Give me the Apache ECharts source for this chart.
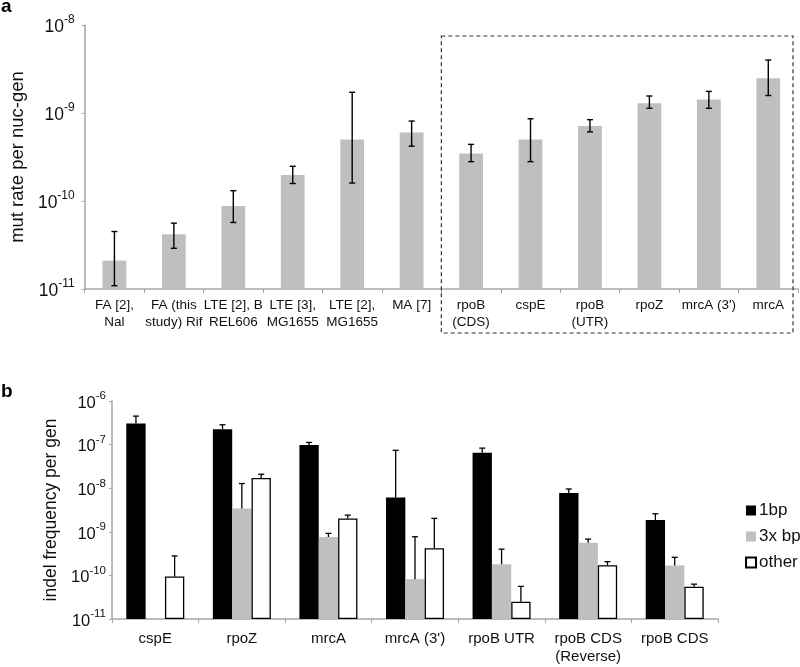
<!DOCTYPE html>
<html>
<head>
<meta charset="utf-8">
<script src="https://cdn.jsdelivr.net/npm/echarts@6/dist/echarts.min.js"></script>
<style>html,body{margin:0;padding:0;background:#fff}#c{width:800px;height:667px}</style>
</head>
<body>
<div id="c"></div>
<script>
// ---- Panel a data ----
const catsA = ['FA [2],\nNal','FA (this\nstudy) Rif','LTE [2], B\nREL606','LTE [3],\nMG1655','LTE [2],\nMG1655','MA [7]','rpoB\n(CDS)','cspE','rpoB\n(UTR)','rpoZ',"mrcA (3')",'mrcA'];
const rateA  = [2.1e-11,4.2e-11,8.8e-11,1.97e-10,5.0e-10,6.0e-10,3.47e-10,5.0e-10,7.1e-10,1.29e-9,1.42e-9,2.48e-9];
const errHiA = [4.5e-11,5.6e-11,1.31e-10,2.48e-10,1.72e-9,8.1e-10,4.4e-10,8.6e-10,8.4e-10,1.56e-9,1.76e-9,4.0e-9];
const errLoA = [1.09e-11,2.9e-11,5.7e-11,1.58e-10,1.6e-10,4.2e-10,2.8e-10,2.8e-10,6.1e-10,1.13e-9,1.13e-9,1.58e-9];

// ---- Panel b data ----
const catsB = ['cspE','rpoZ','mrcA',"mrcA (3')",'rpoB UTR','rpoB CDS\n(Reverse)','rpoB CDS'];
const seriesNamesB = ['1bp','3x bp','other'];
const bp1      = [3.05e-7,2.26e-7,9.8e-8,6.1e-9,6.5e-8,7.8e-9,1.86e-9];
const bp1Err   = [4.5e-7,2.85e-7,1.12e-7,7.4e-8,8.3e-8,9.6e-9,2.59e-9];
const bp3      = [null,3.44e-9,7.6e-10,8.2e-11,1.8e-10,5.6e-10,1.68e-10];
const bp3Err   = [null,1.28e-8,9.2e-10,7.7e-10,4.0e-10,6.8e-10,2.6e-10];
const other    = [9.4e-11,1.72e-8,2.03e-9,4.2e-10,2.5e-11,1.71e-10,5.5e-11];
const otherErr = [2.8e-10,2.09e-8,2.41e-9,2.03e-9,5.6e-11,2.07e-10,6.3e-11];

const FONT = "'Liberation Sans', Arial, sans-serif";
const NARROW = "'Liberation Sans Narrow', 'Liberation Sans', Arial, sans-serif";
const AXIS_GRAY = '#a6a6a6';

function supLabel(size, supSize) {
  return {
    formatter: v => '{a|10}{s|' + Math.round(Math.log10(v)) + '}',
    rich: {
      a: {fontSize: size, fontFamily: FONT, color: '#111', verticalAlign: 'bottom', lineHeight: size + 5},
      s: {fontSize: supSize, fontFamily: FONT, color: '#111', verticalAlign: 'top', lineHeight: size + 5}
    }
  };
}

const chart = echarts.init(document.getElementById('c'), null, {renderer: 'canvas'});

function errBothRender(params, api) {
  const i = api.value(0);
  const hi = api.coord([i, api.value(1)]);
  const lo = api.coord([i, api.value(2)]);
  const cap = 3;
  const st = {stroke: '#000', lineWidth: 1.4};
  return {type: 'group', children: [
    {type: 'line', shape: {x1: hi[0], y1: hi[1], x2: lo[0], y2: lo[1]}, style: st},
    {type: 'line', shape: {x1: hi[0]-cap, y1: hi[1], x2: hi[0]+cap, y2: hi[1]}, style: st},
    {type: 'line', shape: {x1: lo[0]-cap, y1: lo[1], x2: lo[0]+cap, y2: lo[1]}, style: st}
  ]};
}

function makeErrUp(k) {
  return function (params, api) {
    const i = api.value(0);
    const v = api.value(1), e = api.value(2);
    if (!(v > 0) || !(e > 0)) return null;
    const band = api.size([1, 0])[0];
    const w = band * 0.67 / 3;
    const off = (k - 1) * w;
    const top = api.coord([i, e]);
    const base = api.coord([i, v]);
    const x = top[0] + off;
    const cap = 3;
    const st = {stroke: '#000', lineWidth: 1.3};
    return {type: 'group', children: [
      {type: 'line', shape: {x1: x, y1: top[1], x2: x, y2: base[1]}, style: st},
      {type: 'line', shape: {x1: x-cap, y1: top[1], x2: x+cap, y2: top[1]}, style: st}
    ]};
  };
}

const barDataB = [bp1, bp3, other];
const errDataB = [bp1Err, bp3Err, otherErr];
const styleB = [
  {color: '#000'},
  {color: '#bfbfbf'},
  {color: '#fff', borderColor: '#000', borderWidth: 1.3}
];

const seriesB = [];
barDataB.forEach((arr, k) => {
  seriesB.push({
    name: seriesNamesB[k], type: 'bar', xAxisIndex: 1, yAxisIndex: 1,
    data: arr.map(v => v == null ? '-' : v),
    barGap: '0%', barCategoryGap: '33%',
    itemStyle: styleB[k], z: 2
  });
});
errDataB.forEach((arr, k) => {
  seriesB.push({
    type: 'custom', xAxisIndex: 1, yAxisIndex: 1, z: 5,
    renderItem: makeErrUp(k),
    data: arr.map((e, i) => [i, barDataB[k][i] == null ? 0 : barDataB[k][i], e == null ? 0 : e]),
    silent: true
  });
});

const titles = [
  {type: 'text', left: 1, top: -3, style: {text: 'a', fontSize: 19, fontWeight: 'bold', fontFamily: FONT, fill: '#000'}},
  {type: 'text', left: 1, top: 382, style: {text: 'b', fontSize: 19, fontWeight: 'bold', fontFamily: FONT, fill: '#000'}}
];

const option = {
  animation: false,
  backgroundColor: '#fff',
  textStyle: {fontFamily: FONT},
  grid: [
    {left: 80, right: 2, top: 25, bottom: 378},
    {left: 112, right: 82, top: 401, bottom: 48}
  ],
  legend: {
    data: seriesNamesB, orient: 'vertical', left: 740, top: 497,
    icon: 'rect', itemWidth: 10, itemHeight: 10, itemGap: 9,
    textStyle: {fontSize: 17, fontFamily: FONT, color: '#111', padding: [0, 0, 0, -2]}
  },
  xAxis: [
    {type: 'category', gridIndex: 0, data: catsA,
     axisLine: {lineStyle: {color: AXIS_GRAY, width: 1.5}},
     axisTick: {show: true, length: 4, lineStyle: {color: AXIS_GRAY}},
     axisLabel: {interval: 0, fontSize: 13.5, fontFamily: NARROW, color: '#111', lineHeight: 17, margin: 8}},
    {type: 'category', gridIndex: 1, data: catsB,
     axisLine: {lineStyle: {color: AXIS_GRAY, width: 1.5}},
     axisTick: {show: true, length: 4, lineStyle: {color: AXIS_GRAY}},
     axisLabel: {interval: 0, fontSize: 15, fontFamily: NARROW, color: '#111', lineHeight: 18, margin: 11}}
  ],
  yAxis: [
    {type: 'log', gridIndex: 0, logBase: 10, min: 1e-11, max: 1e-8, startValue: 1e-11,
     name: 'mut rate per nuc-gen', nameLocation: 'middle', nameGap: 47,
     nameTextStyle: {fontSize: 18.5, fontFamily: FONT, color: '#111'},
     axisLine: {show: true, lineStyle: {color: AXIS_GRAY, width: 1.5}},
     axisTick: {show: true, length: 3, lineStyle: {color: AXIS_GRAY}},
     splitLine: {show: false}, minorTick: {show: false},
     axisLabel: Object.assign({margin: 10}, supLabel(17.5, 12))},
    {type: 'log', gridIndex: 1, logBase: 10, min: 1e-11, max: 1e-6, startValue: 1e-11,
     name: 'indel frequency per gen', nameLocation: 'middle', nameGap: 52,
     nameTextStyle: {fontSize: 17.5, fontFamily: FONT, color: '#111'},
     axisLine: {show: true, lineStyle: {color: AXIS_GRAY, width: 1.5}},
     axisTick: {show: true, length: 3, lineStyle: {color: AXIS_GRAY}},
     splitLine: {show: false}, minorTick: {show: false},
     axisLabel: Object.assign({margin: 6}, supLabel(16.5, 11.5))}
  ],
  graphic: titles,
  series: [
    {type: 'bar', xAxisIndex: 0, yAxisIndex: 0, data: rateA, barWidth: '40%',
     itemStyle: {color: '#bfbfbf'}, z: 2},
    {type: 'custom', xAxisIndex: 0, yAxisIndex: 0, z: 5, silent: true,
     renderItem: errBothRender,
     data: rateA.map((v, i) => [i, errHiA[i], errLoA[i]])}
  ].concat(seriesB)
};

chart.setOption(option);

// dashed annotation box around the last six categories of panel a
const pLeft = chart.convertToPixel({xAxisIndex: 0}, 6);
const pRight = chart.convertToPixel({xAxisIndex: 0}, 11);
const band = pRight - chart.convertToPixel({xAxisIndex: 0}, 10);
const bx = pLeft - band / 2;
const bx2 = pRight + band / 2 - 5;
chart.setOption({
  graphic: titles.concat([
    {type: 'rect', z: 10, silent: true,
     shape: {x: bx, y: 36, width: bx2 - bx, height: 297},
     style: {fill: 'none', stroke: '#333', lineWidth: 1.2, lineDash: [4, 3]}}
  ])
});
</script>
</body>
</html>
